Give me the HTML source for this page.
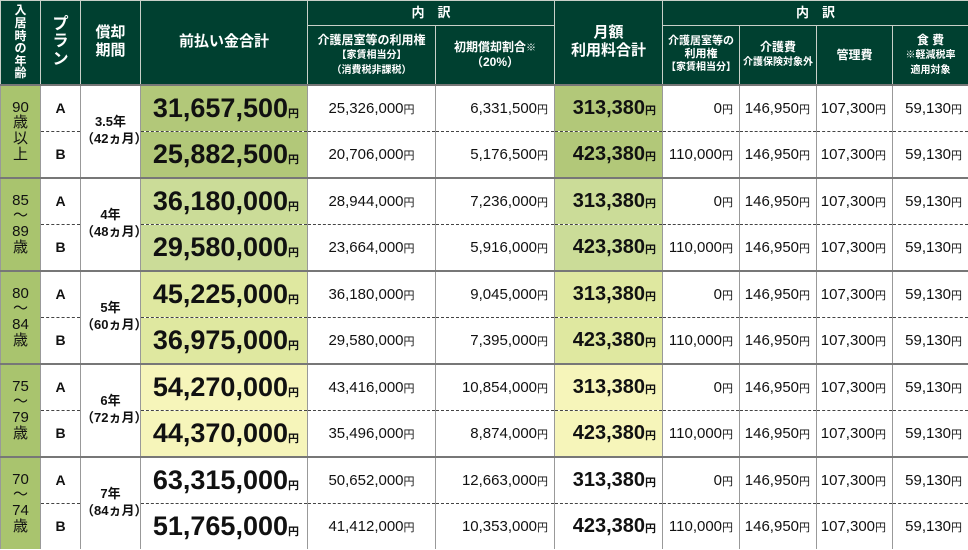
<!DOCTYPE html>
<html><head><meta charset="utf-8">
<style>
body{margin:0;background:#fff;}
table{border-collapse:collapse;table-layout:fixed;width:968px;font-family:"Liberation Sans","Noto Sans CJK JP",sans-serif;color:#111;}
td,th{padding:0;text-align:center;vertical-align:middle;overflow:hidden;white-space:nowrap;}
th{background:#004030;color:#fff;font-weight:bold;border:1px solid #c8d0c8;font-size:14px;line-height:1.2;}
th.s{font-size:12px;line-height:1.2}
th .x{font-size:10px;font-weight:bold}
td{border-left:1px solid #999;border-right:1px solid #999;font-size:15px;}
tr.a td{border-top:2px solid #777;height:45px}
tr.b td{border-top:1px dashed #444;height:45px}
tr.a td.sp{border-bottom:none}
.age{background:#a9c46e;font-size:15px;line-height:1.05}
.pl{font-weight:bold;font-size:14px}
.per{font-weight:bold;font-size:13px;line-height:1.3}
.tot{font-weight:bold;font-size:27px;text-align:right;padding-right:8px}
.mo{font-weight:bold;font-size:20px;text-align:right;padding-right:6px}
.n{text-align:right;padding-right:6px}
.n.c{text-align:center;padding:0}
.y{font-size:11px;font-weight:bold}
.n .y{font-weight:normal}
.g1{background:#b2c879}.g2{background:#cbdc98}.g3{background:#dfe8a0}.g4{background:#f6f5ba}.g5{background:#fff}
</style></head><body>
<table>
<colgroup><col style="width:40px"><col style="width:40px"><col style="width:60px"><col style="width:167px"><col style="width:128px"><col style="width:119px"><col style="width:108px"><col style="width:77px"><col style="width:77px"><col style="width:76px"><col style="width:76px"></colgroup>
<tr style="height:25px">
<th rowspan="2" style="font-size:12px;line-height:1.05">入<br>居<br>時<br>の<br>年<br>齢</th>
<th rowspan="2" style="font-size:16px;line-height:1.1">プ<br>ラ<br>ン</th>
<th rowspan="2" style="font-size:15px">償却<br>期間</th>
<th rowspan="2" style="font-size:15px">前払い金合計</th>
<th colspan="2" style="font-size:13px">内　訳</th>
<th rowspan="2" style="font-size:15px">月額<br>利用料合計</th>
<th colspan="4" style="font-size:13px">内　訳</th>
</tr>
<tr style="height:59px">
<th class="s">介護居室等の利用権<br><span class="x">【家賃相当分】<br>（消費税非課税）</span></th>
<th class="s">初期償却割合<span class="x">※</span><br>（20%）</th>
<th class="s" style="font-size:11px">介護居室等の<br>利用権<br><span class="x">【家賃相当分】</span></th>
<th class="s">介護費<br><span class="x">介護保険対象外</span></th>
<th class="s">管理費</th>
<th class="s">食 費<br><span class="x">※軽減税率<br>適用対象</span></th>
</tr>

<tr class="a"><td rowspan="2" class="age">90<br>歳<br>以<br>上</td><td class="pl">A</td><td rowspan="2" class="per">3.5年<br>（42ヵ月）</td><td class="tot g1">31,657,500<span class="y">円</span></td><td class="n c">25,326,000<span class="y">円</span></td><td class="n">6,331,500<span class="y">円</span></td><td class="mo g1">313,380<span class="y">円</span></td><td class="n">0<span class="y">円</span></td><td class="n">146,950<span class="y">円</span></td><td class="n">107,300<span class="y">円</span></td><td class="n">59,130<span class="y">円</span></td></tr>
<tr class="b"><td class="pl">B</td><td class="tot g1">25,882,500<span class="y">円</span></td><td class="n c">20,706,000<span class="y">円</span></td><td class="n">5,176,500<span class="y">円</span></td><td class="mo g1">423,380<span class="y">円</span></td><td class="n">110,000<span class="y">円</span></td><td class="n">146,950<span class="y">円</span></td><td class="n">107,300<span class="y">円</span></td><td class="n">59,130<span class="y">円</span></td></tr>

<tr class="a"><td rowspan="2" class="age">85<br>～<br>89<br>歳</td><td class="pl">A</td><td rowspan="2" class="per">4年<br>（48ヵ月）</td><td class="tot g2">36,180,000<span class="y">円</span></td><td class="n c">28,944,000<span class="y">円</span></td><td class="n">7,236,000<span class="y">円</span></td><td class="mo g2">313,380<span class="y">円</span></td><td class="n">0<span class="y">円</span></td><td class="n">146,950<span class="y">円</span></td><td class="n">107,300<span class="y">円</span></td><td class="n">59,130<span class="y">円</span></td></tr>
<tr class="b"><td class="pl">B</td><td class="tot g2">29,580,000<span class="y">円</span></td><td class="n c">23,664,000<span class="y">円</span></td><td class="n">5,916,000<span class="y">円</span></td><td class="mo g2">423,380<span class="y">円</span></td><td class="n">110,000<span class="y">円</span></td><td class="n">146,950<span class="y">円</span></td><td class="n">107,300<span class="y">円</span></td><td class="n">59,130<span class="y">円</span></td></tr>

<tr class="a"><td rowspan="2" class="age">80<br>～<br>84<br>歳</td><td class="pl">A</td><td rowspan="2" class="per">5年<br>（60ヵ月）</td><td class="tot g3">45,225,000<span class="y">円</span></td><td class="n c">36,180,000<span class="y">円</span></td><td class="n">9,045,000<span class="y">円</span></td><td class="mo g3">313,380<span class="y">円</span></td><td class="n">0<span class="y">円</span></td><td class="n">146,950<span class="y">円</span></td><td class="n">107,300<span class="y">円</span></td><td class="n">59,130<span class="y">円</span></td></tr>
<tr class="b"><td class="pl">B</td><td class="tot g3">36,975,000<span class="y">円</span></td><td class="n c">29,580,000<span class="y">円</span></td><td class="n">7,395,000<span class="y">円</span></td><td class="mo g3">423,380<span class="y">円</span></td><td class="n">110,000<span class="y">円</span></td><td class="n">146,950<span class="y">円</span></td><td class="n">107,300<span class="y">円</span></td><td class="n">59,130<span class="y">円</span></td></tr>

<tr class="a"><td rowspan="2" class="age">75<br>～<br>79<br>歳</td><td class="pl">A</td><td rowspan="2" class="per">6年<br>（72ヵ月）</td><td class="tot g4">54,270,000<span class="y">円</span></td><td class="n c">43,416,000<span class="y">円</span></td><td class="n">10,854,000<span class="y">円</span></td><td class="mo g4">313,380<span class="y">円</span></td><td class="n">0<span class="y">円</span></td><td class="n">146,950<span class="y">円</span></td><td class="n">107,300<span class="y">円</span></td><td class="n">59,130<span class="y">円</span></td></tr>
<tr class="b"><td class="pl">B</td><td class="tot g4">44,370,000<span class="y">円</span></td><td class="n c">35,496,000<span class="y">円</span></td><td class="n">8,874,000<span class="y">円</span></td><td class="mo g4">423,380<span class="y">円</span></td><td class="n">110,000<span class="y">円</span></td><td class="n">146,950<span class="y">円</span></td><td class="n">107,300<span class="y">円</span></td><td class="n">59,130<span class="y">円</span></td></tr>

<tr class="a"><td rowspan="2" class="age">70<br>～<br>74<br>歳</td><td class="pl">A</td><td rowspan="2" class="per">7年<br>（84ヵ月）</td><td class="tot g5">63,315,000<span class="y">円</span></td><td class="n c">50,652,000<span class="y">円</span></td><td class="n">12,663,000<span class="y">円</span></td><td class="mo g5">313,380<span class="y">円</span></td><td class="n">0<span class="y">円</span></td><td class="n">146,950<span class="y">円</span></td><td class="n">107,300<span class="y">円</span></td><td class="n">59,130<span class="y">円</span></td></tr>
<tr class="b"><td class="pl">B</td><td class="tot g5">51,765,000<span class="y">円</span></td><td class="n c">41,412,000<span class="y">円</span></td><td class="n">10,353,000<span class="y">円</span></td><td class="mo g5">423,380<span class="y">円</span></td><td class="n">110,000<span class="y">円</span></td><td class="n">146,950<span class="y">円</span></td><td class="n">107,300<span class="y">円</span></td><td class="n">59,130<span class="y">円</span></td></tr>
</table>
</body></html>
